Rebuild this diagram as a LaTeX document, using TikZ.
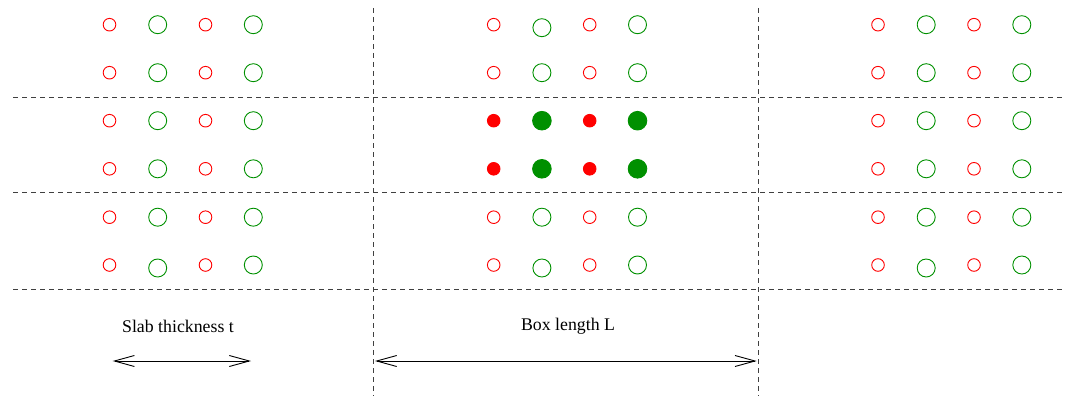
\documentclass[tikz,border=0pt]{standalone}
\usepackage{fontspec}
\setmainfont{Liberation Serif}
\usetikzlibrary{arrows.meta}
\definecolor{atomred}{HTML}{FF0000}
\definecolor{atomgreen}{HTML}{009000}
\definecolor{gridgray}{HTML}{404040}
\tikzset{
  cell/.style={draw=gridgray, line width=0.9pt, dash pattern=on 5pt off 4pt},
  redatom/.style={circle, draw=atomred, line width=0.9pt, inner sep=0pt, minimum size=12.6pt},
  greenatom/.style={circle, draw=atomgreen, line width=0.9pt, inner sep=0pt, minimum size=18pt},
  redfull/.style={redatom, fill=atomred},
  greenfull/.style={greenatom, fill=atomgreen, minimum size=18.6pt},
  measure/.style={line width=0.9pt, {Straight Barb[length=20pt,width=11pt]}-{Straight Barb[length=20pt,width=11pt]}},
  caption/.style={font=\fontsize{17.8}{20}\selectfont, inner sep=0pt}
}
\begin{document}
\begin{tikzpicture}[x=1pt,y=-1pt]
\useasboundingbox (0,0) rectangle (1065,396);
% cell boundaries
\coordinate (v1t) at (373,8);   \coordinate (v1b) at (373,396);
\coordinate (v2t) at (758,8);   \coordinate (v2b) at (758,396);
\coordinate (h1l) at (13,97.3); \coordinate (h1r) at (1065,97.3);
\coordinate (h2l) at (13,192.8);\coordinate (h2r) at (1065,192.8);
\coordinate (h3l) at (13,289.3);\coordinate (h3r) at (1065,289.3);
\draw[cell] (v1t) -- (v1b);
\draw[cell] (v2t) -- (v2b);
\draw[cell] (h1l) -- (h1r);
\draw[cell] (h2l) -- (h2r);
\draw[cell] (h3l) -- (h3r);
% atoms
\foreach \b/\bx in {1/109.5, 2/493.7, 3/878} {
  \foreach \r/\ry in {1/24.7, 2/72.7, 3/120.7, 4/168.8, 5/217.2, 6/265} {
    \pgfmathsetmacro{\gy}{\ry}
    \ifnum\r=6 \pgfmathsetmacro{\gy}{\ry+3}\fi
    \ifnum\b=2 \ifnum\r=1 \pgfmathsetmacro{\gy}{\ry+3}\fi\fi
    \ifnum\b=2
      \ifnum\r=3
        \node[redfull]   (a\b-\r-1) at (\bx,\ry) {};
        \node[greenfull] (a\b-\r-2) at (\bx+48.2,\ry) {};
        \node[redfull]   (a\b-\r-3) at (\bx+96,\ry) {};
        \node[greenfull] (a\b-\r-4) at (\bx+143.8,\ry) {};
      \else\ifnum\r=4
        \node[redfull]   (a\b-\r-1) at (\bx,\ry) {};
        \node[greenfull] (a\b-\r-2) at (\bx+48.2,\ry) {};
        \node[redfull]   (a\b-\r-3) at (\bx+96,\ry) {};
        \node[greenfull] (a\b-\r-4) at (\bx+143.8,\ry) {};
      \else
        \node[redatom]   (a\b-\r-1) at (\bx,\ry) {};
        \node[greenatom] (a\b-\r-2) at (\bx+48.2,\gy) {};
        \node[redatom]   (a\b-\r-3) at (\bx+96,\ry) {};
        \node[greenatom] (a\b-\r-4) at (\bx+143.8,\ry) {};
      \fi\fi
    \else
      \node[redatom]   (a\b-\r-1) at (\bx,\ry) {};
      \node[greenatom] (a\b-\r-2) at (\bx+48.2,\gy) {};
      \node[redatom]   (a\b-\r-3) at (\bx+96,\ry) {};
      \node[greenatom] (a\b-\r-4) at (\bx+143.8,\ry) {};
    \fi
  }
}
% labels
\node[caption] (slab) at (178,326) {Slab thickness t};
\node[caption] (box) at (568,326) {Box length L};
\coordinate (s1) at (112.7,361);
\coordinate (s2) at (251,361);
\coordinate (b1) at (375,361);
\coordinate (b2) at (756.7,361);
\draw[measure] (s1) -- (s2);
\draw[measure] (b1) -- (b2);
\end{tikzpicture}
\end{document}
